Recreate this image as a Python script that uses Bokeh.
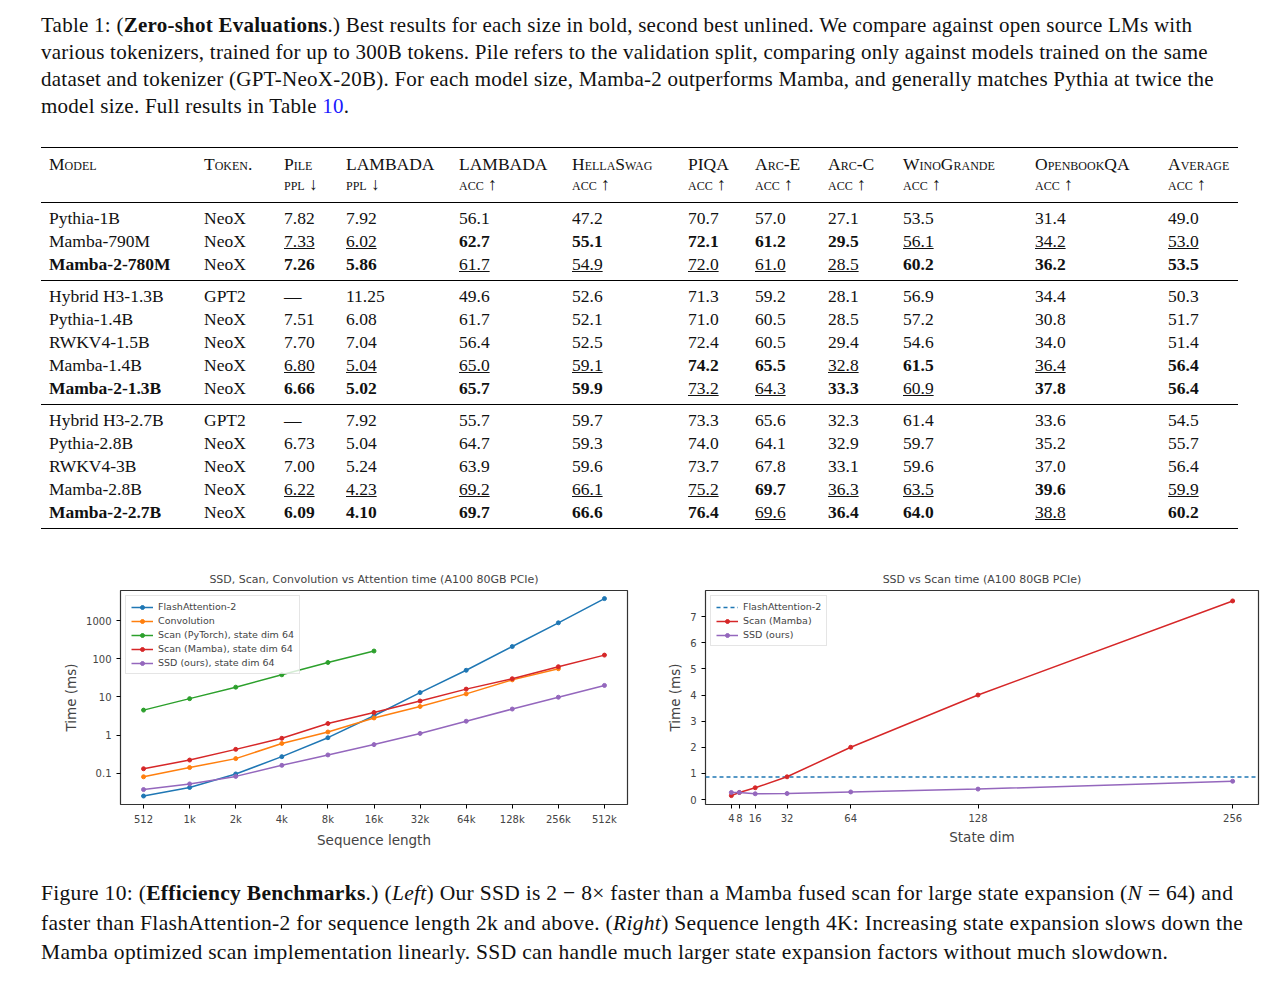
from bokeh.plotting import figure
from bokeh.models import Div, FixedTicker, Legend, LegendItem
from bokeh.layouts import column, row
from bokeh.embed import file_html
from bokeh.resources import INLINE

# ---------------- data ----------------
seq_labels = ["512", "1k", "2k", "4k", "8k", "16k", "32k", "64k", "128k", "256k", "512k"]
seq_idx = list(range(len(seq_labels)))
flash_t = [0.025, 0.042, 0.095, 0.27, 0.85, 3.2, 13, 50, 210, 880, 3800]
conv_t = [0.08, 0.14, 0.24, 0.6, 1.2, 2.8, 5.6, 12, 28, 55]
scan_pt_t = [4.5, 9, 18, 38, 80, 160]
scan_mamba_t = [0.13, 0.22, 0.42, 0.82, 2.0, 3.9, 7.8, 16, 30, 62, 125]
ssd_t = [0.037, 0.052, 0.082, 0.16, 0.3, 0.56, 1.1, 2.3, 4.8, 9.8, 20]

state_dims = [4, 8, 16, 32, 64, 128, 256]
scan_state = [0.15, 0.27, 0.45, 0.87, 2.0, 4.0, 7.6]
ssd_state = [0.27, 0.27, 0.22, 0.23, 0.29, 0.40, 0.70]
flash_const = 0.86

table_header = [("Model", ""), ("Token.", ""), ("Pile", "ppl ↓"), ("LAMBADA", "ppl ↓"),
                ("LAMBADA", "acc ↑"), ("HellaSwag", "acc ↑"), ("PIQA", "acc ↑"),
                ("Arc-E", "acc ↑"), ("Arc-C", "acc ↑"), ("WinoGrande", "acc ↑"),
                ("OpenbookQA", "acc ↑"), ("Average", "acc ↑")]
table_groups = [
    [["Pythia-1B", "NeoX", "7.82", "7.92", "56.1", "47.2", "70.7", "57.0", "27.1", "53.5", "31.4", "49.0"],
     ["Mamba-790M", "NeoX", "_7.33", "_6.02", "*62.7", "*55.1", "*72.1", "*61.2", "*29.5", "_56.1", "_34.2", "_53.0"],
     ["*Mamba-2-780M", "NeoX", "*7.26", "*5.86", "_61.7", "_54.9", "_72.0", "_61.0", "_28.5", "*60.2", "*36.2", "*53.5"]],
    [["Hybrid H3-1.3B", "GPT2", "—", "11.25", "49.6", "52.6", "71.3", "59.2", "28.1", "56.9", "34.4", "50.3"],
     ["Pythia-1.4B", "NeoX", "7.51", "6.08", "61.7", "52.1", "71.0", "60.5", "28.5", "57.2", "30.8", "51.7"],
     ["RWKV4-1.5B", "NeoX", "7.70", "7.04", "56.4", "52.5", "72.4", "60.5", "29.4", "54.6", "34.0", "51.4"],
     ["Mamba-1.4B", "NeoX", "_6.80", "_5.04", "_65.0", "_59.1", "*74.2", "*65.5", "_32.8", "*61.5", "_36.4", "*56.4"],
     ["*Mamba-2-1.3B", "NeoX", "*6.66", "*5.02", "*65.7", "*59.9", "_73.2", "_64.3", "*33.3", "_60.9", "*37.8", "*56.4"]],
    [["Hybrid H3-2.7B", "GPT2", "—", "7.92", "55.7", "59.7", "73.3", "65.6", "32.3", "61.4", "33.6", "54.5"],
     ["Pythia-2.8B", "NeoX", "6.73", "5.04", "64.7", "59.3", "74.0", "64.1", "32.9", "59.7", "35.2", "55.7"],
     ["RWKV4-3B", "NeoX", "7.00", "5.24", "63.9", "59.6", "73.7", "67.8", "33.1", "59.6", "37.0", "56.4"],
     ["Mamba-2.8B", "NeoX", "_6.22", "_4.23", "_69.2", "_66.1", "_75.2", "*69.7", "_36.3", "_63.5", "*39.6", "_59.9"],
     ["*Mamba-2-2.7B", "NeoX", "*6.09", "*4.10", "*69.7", "*66.6", "*76.4", "_69.6", "*36.4", "*64.0", "_38.8", "*60.2"]],
]
col_widths = [155, 80, 62, 113, 113, 116, 67, 73, 75, 132, 133, 78]

SERIF = "'Liberation Serif', 'DejaVu Serif', serif"
SANS = "DejaVu Sans"

def cell(s):
    if s.startswith("*"):
        return "<b>%s</b>" % s[1:]
    if s.startswith("_"):
        return "<u>%s</u>" % s[1:]
    return s

html = []
html.append('<div style="font-family:%s;font-size:21px;letter-spacing:0.25px;line-height:27px;width:1212px;margin-left:36px;margin-top:7px;color:#111;">' % SERIF)
html.append('Table 1: (<b>Zero-shot Evaluations</b>.) Best results for each size in bold, second best unlined. '
            'We compare against open source LMs with various tokenizers, trained for up to 300B tokens. Pile refers '
            'to the validation split, comparing only against models trained on the same dataset and tokenizer '
            '(GPT-NeoX-20B). For each model size, Mamba-2 outperforms Mamba, and generally matches Pythia at twice '
            'the model size. Full results in Table <span style="color:#1a1aff">10</span>.</div>')
html.append('<table style="margin-left:36px;margin-top:27px;border-collapse:collapse;table-layout:fixed;width:1197px;'
            'font-family:%s;font-size:17.5px;color:#111;border-top:1.5px solid #000;border-bottom:1.5px solid #000;">' % SERIF)
html.append("<colgroup>" + "".join('<col style="width:%dpx">' % w for w in col_widths) + "</colgroup>")
html.append('<tr style="font-variant:small-caps;">' + "".join(
    '<td style="padding:6px 0 8px 8px;line-height:20px;vertical-align:top;border-bottom:1px solid #000;">%s<br>%s</td>' % (a, b)
    for a, b in table_header) + "</tr>")
for gi, g in enumerate(table_groups):
    for ri, r in enumerate(g):
        top = 4 if ri == 0 else 0
        bot = 4 if ri == len(g) - 1 else 0
        border = "border-bottom:1px solid #000;" if (ri == len(g) - 1 and gi < len(table_groups) - 1) else ""
        html.append("<tr>" + "".join(
            '<td style="padding:%dpx 0 %dpx 8px;line-height:23px;white-space:nowrap;%s">%s</td>' % (top, bot, border, cell(c))
            for c in r) + "</tr>")
html.append("</table>")
top_div = Div(text="".join(html), width=1270, height=555)

fig_cap = Div(text='<div style="font-family:%s;font-size:21.5px;letter-spacing:0.3px;line-height:29.5px;width:1212px;margin-left:36px;margin-top:24px;color:#111;">'
              'Figure 10: (<b>Efficiency Benchmarks</b>.) (<i>Left</i>) Our SSD is 2 − 8× faster than a Mamba fused scan '
              'for large state expansion (<i>N</i> = 64) and faster than FlashAttention-2 for sequence length 2k and above. '
              '(<i>Right</i>) Sequence length 4K: Increasing state expansion slows down the Mamba optimized scan implementation '
              'linearly. SSD can handle much larger state expansion factors without much slowdown.</div>' % SERIF,
              width=1270, height=140)

C_BLUE, C_ORANGE, C_GREEN, C_RED, C_PURPLE = "#1f77b4", "#ff7f0e", "#2ca02c", "#d62728", "#9467bd"

def style(p):
    p.outline_line_color = "#333333"
    p.outline_line_width = 1.2
    p.grid.visible = False
    for ax in (p.xaxis[0], p.yaxis[0]):
        ax.major_label_text_font = SANS
        ax.major_label_text_font_size = "10px"
        ax.axis_label_text_font = SANS
        ax.axis_label_text_font_size = "13.5px"
        ax.axis_label_text_font_style = "normal"
        ax.axis_line_color = None
        ax.major_tick_out = 4
        ax.major_tick_in = 0
        ax.minor_tick_line_color = None
        ax.axis_label_standoff = 4
    p.title.text_font = SANS
    p.title.text_font_size = "11px"
    p.title.text_font_style = "normal"
    p.title.align = "center"
    p.background_fill_color = "white"

# ---------- left ----------
p1 = figure(width=640, height=285, y_axis_type="log", x_range=(-0.5, 10.5), y_range=(0.015, 6200),
            title="SSD, Scan, Convolution vs Attention time (A100 80GB PCIe)",
            output_backend="svg", toolbar_location=None,
            min_border_left=120, min_border_right=13, min_border_top=4, min_border_bottom=4)
style(p1)
p1.xaxis.ticker = FixedTicker(ticks=seq_idx)
p1.xaxis.major_label_overrides = {i: l for i, l in zip(seq_idx, seq_labels)}
p1.yaxis.ticker = FixedTicker(ticks=[0.1, 1, 10, 100, 1000])
p1.yaxis.major_label_overrides = {0.1: "0.1", 1: "1", 10: "10", 100: "100", 1000: "1000"}
p1.xaxis.axis_label = "Sequence length"
p1.yaxis.axis_label = "Time (ms)"
items = []
for name, ys, c in [("FlashAttention-2", flash_t, C_BLUE), ("Convolution", conv_t, C_ORANGE),
                    ("Scan (PyTorch), state dim 64", scan_pt_t, C_GREEN),
                    ("Scan (Mamba), state dim 64", scan_mamba_t, C_RED),
                    ("SSD (ours), state dim 64", ssd_t, C_PURPLE)]:
    xs = seq_idx[:len(ys)]
    l = p1.line(xs, ys, line_color=c, line_width=1.5)
    s = p1.scatter(xs, ys, size=4, color=c)
    items.append(LegendItem(label=name, renderers=[l, s]))
leg1 = Legend(items=items, location="top_left")
p1.add_layout(leg1)

# ---------- right ----------
xr = (-9, 269)
p2 = figure(width=625, height=285, x_range=xr, y_range=(-0.19, 8.0),
            title="SSD vs Scan time (A100 80GB PCIe)",
            output_backend="svg", toolbar_location=None,
            min_border_left=65, min_border_right=7, min_border_top=4, min_border_bottom=4)
style(p2)
p2.xaxis.ticker = FixedTicker(ticks=state_dims)
p2.yaxis.ticker = FixedTicker(ticks=list(range(0, 8)))
p2.xaxis.axis_label = "State dim"
p2.yaxis.axis_label = "Time (ms)"
lf = p2.line(list(xr), [flash_const, flash_const], line_color=C_BLUE, line_width=1.5, line_dash="4 3")
ls = p2.line(state_dims, scan_state, line_color=C_RED, line_width=1.5)
ss = p2.scatter(state_dims, scan_state, size=4, color=C_RED)
lp = p2.line(state_dims, ssd_state, line_color=C_PURPLE, line_width=1.5)
sp = p2.scatter(state_dims, ssd_state, size=4, color=C_PURPLE)
leg2 = Legend(items=[LegendItem(label="FlashAttention-2", renderers=[lf]),
                     LegendItem(label="Scan (Mamba)", renderers=[ls, ss]),
                     LegendItem(label="SSD (ours)", renderers=[lp, sp])], location="top_left")
p2.add_layout(leg2)

for lg in (leg1, leg2):
    lg.label_text_font = SANS
    lg.label_text_font_size = "9.5px"
    lg.label_height = 10
    lg.glyph_height = 10
    lg.glyph_width = 22
    lg.spacing = 3
    lg.padding = 5
    lg.margin = 5
    lg.border_line_color = "#cccccc"
    lg.background_fill_alpha = 0.8

layout = column(top_div, row(p1, p2), fig_cap)
open("out.html", "w").write(file_html(layout, INLINE))
